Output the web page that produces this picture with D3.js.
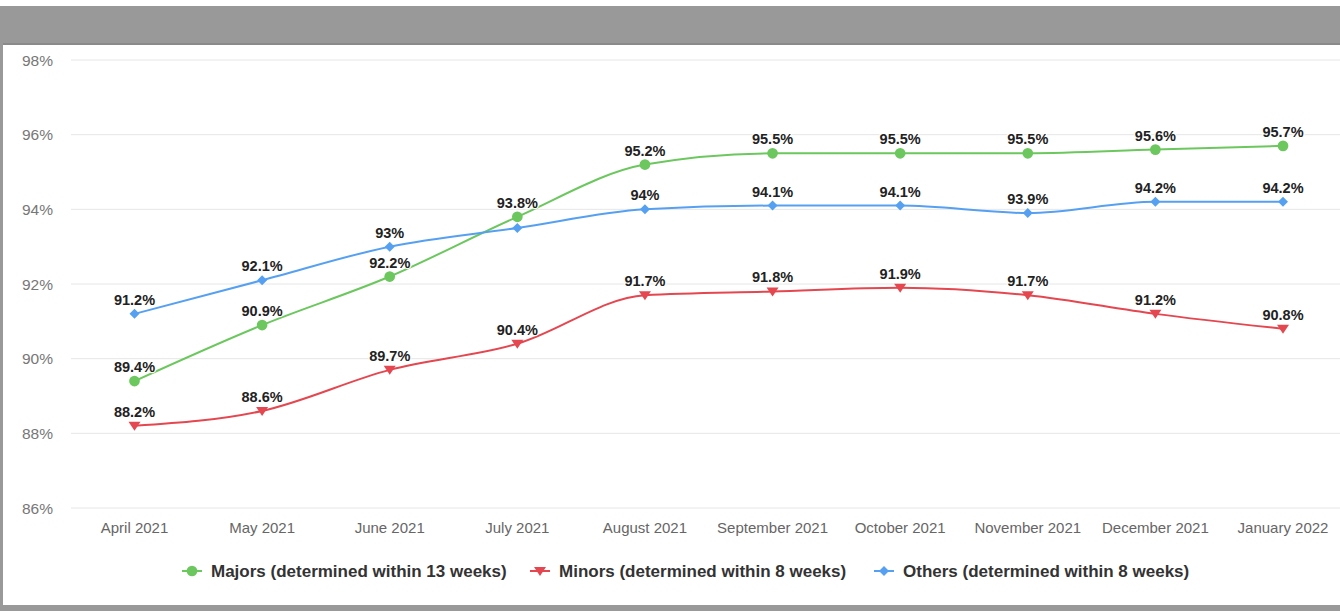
<!DOCTYPE html>
<html><head><meta charset="utf-8">
<script src="https://cdn.jsdelivr.net/npm/d3@7"></script>
<style>
html,body{margin:0;padding:0;background:#fff;}
svg{display:block;font-family:"Liberation Sans",Arial,sans-serif;}
</style></head>
<body>
<svg id="chart" width="1340" height="611"></svg>
<script>
const categories = ["April 2021","May 2021","June 2021","July 2021","August 2021","September 2021","October 2021","November 2021","December 2021","January 2022"];
const majors = [89.4, 90.9, 92.2, 93.8, 95.2, 95.5, 95.5, 95.5, 95.6, 95.7];
const minors = [88.2, 88.6, 89.7, 90.4, 91.7, 91.8, 91.9, 91.7, 91.2, 90.8];
const others = [91.2, 92.1, 93.0, 93.5, 94.0, 94.1, 94.1, 93.9, 94.2, 94.2];
const yTicks = [86, 88, 90, 92, 94, 96, 98];
const seriesNames = ["Majors (determined within 13 weeks)","Minors (determined within 8 weeks)","Others (determined within 8 weeks)"];
const seriesColors = ["#6cc75e","#e4474f","#56a0f2"];
const seriesMarkers = ["circle","triangleDown","diamond"];

const series = [majors, minors, others].map((v,i)=>({name:seriesNames[i],values:v,color:seriesColors[i],marker:seriesMarkers[i]}));

const svg = d3.select("#chart");
const W = 1340, H = 611;

// frame
svg.append("rect").attr("x",0).attr("y",0).attr("width",W).attr("height",H).attr("fill","#fff");
svg.append("rect").attr("x",0).attr("y",6).attr("width",W).attr("height",39).attr("fill","#999");
svg.append("rect").attr("x",0).attr("y",43).attr("width",W).attr("height",2).attr("fill","#8a8a8a");
svg.append("rect").attr("x",0).attr("y",6).attr("width",3).attr("height",H-6).attr("fill","#999");
svg.append("rect").attr("x",0).attr("y",605).attr("width",W).attr("height",6).attr("fill","#999");

const x = d3.scalePoint().domain(categories).range([134.5, 1283]);
const y = d3.scaleLinear().domain([86, 98]).range([508, 60]);

// grid
svg.append("g").selectAll("line").data(yTicks).join("line")
  .attr("x1",71).attr("x2",W).attr("y1",d=>y(d)).attr("y2",d=>y(d))
  .attr("stroke","#e6e6e6").attr("stroke-width",1);

// y axis labels
svg.append("g").selectAll("text").data(yTicks).join("text")
  .attr("x",53).attr("y",d=>y(d)+5.5).attr("text-anchor","end")
  .attr("font-size",15.5).attr("fill","#777").text(d=>d+"%");

// x axis labels
svg.append("g").selectAll("text").data(categories).join("text")
  .attr("x",d=>x(d)).attr("y",533).attr("text-anchor","middle")
  .attr("font-size",15).attr("fill","#666").text(d=>d);

const line = d3.line().x((d,i)=>x(categories[i])).y(d=>y(d)).curve(d3.curveMonotoneX);

function markerPath(type){
  if(type==="circle") return d3.symbol().type(d3.symbolCircle).size(90)();
  if(type==="diamond") return "M0,-5L5,0L0,5L-5,0Z";
  return "M-6,-4L6,-4L0,5Z";
}

series.forEach(s=>{
  svg.append("path").attr("d",line(s.values)).attr("fill","none")
    .attr("stroke",s.color).attr("stroke-width",2);
  svg.append("g").selectAll("path").data(s.values).join("path")
    .attr("d",markerPath(s.marker))
    .attr("transform",(d,i)=>`translate(${x(categories[i])},${y(d)})`)
    .attr("fill",s.color);
});

// data labels with overlap hiding
const placed = [];
const labelG = svg.append("g");
const fs = 14.5;
series.forEach(s=>{
  s.values.forEach((v,i)=>{
    const cx = x(categories[i]), cy = y(v) - 9;
    const txt = v + "%";
    const w = txt.length*fs*0.58, h = fs;
    const box = {x0:cx-w/2, x1:cx+w/2, y0:cy-h+3, y1:cy+2};
    const hit = placed.some(b=>!(box.x1<b.x0||box.x0>b.x1||box.y1<b.y0||box.y0>b.y1));
    if(hit) return;
    placed.push(box);
    labelG.append("text").attr("x",cx).attr("y",cy).attr("text-anchor","middle")
      .attr("font-size",fs).attr("font-weight","bold").attr("fill","#222")
      .attr("stroke","#fff").attr("stroke-width",2.5).attr("paint-order","stroke")
      .text(txt);
  });
});

// legend
const legendX = [182, 530, 874];
const lg = svg.append("g");
series.forEach((s,i)=>{
  const g = lg.append("g").attr("transform",`translate(${legendX[i]},571)`);
  g.append("line").attr("x1",0).attr("x2",20).attr("y1",0).attr("y2",0).attr("stroke",s.color).attr("stroke-width",2);
  g.append("path").attr("d",markerPath(s.marker)).attr("transform","translate(10,0)").attr("fill",s.color);
  g.append("text").attr("x",29).attr("y",6).attr("font-size",17).attr("font-weight","bold").attr("fill","#333").text(s.name);
});
</script>
</body></html>
